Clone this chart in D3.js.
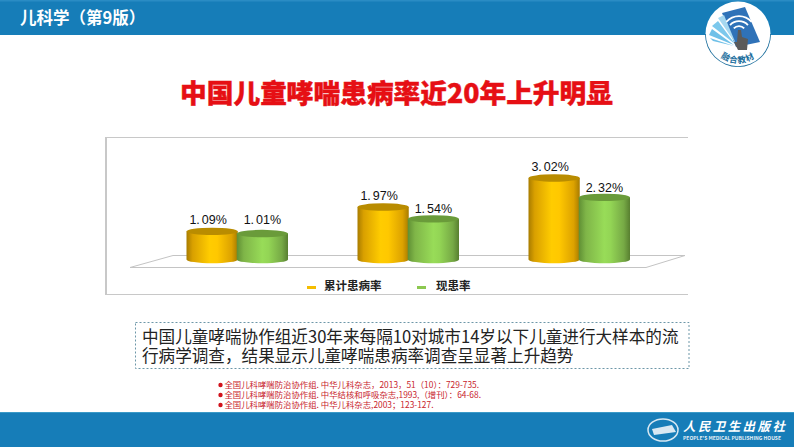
<!DOCTYPE html>
<html><head><meta charset="utf-8">
<style>html,body{margin:0;padding:0;background:#fff}svg{display:block}text{font-family:"Noto Sans CJK SC","Noto Sans",sans-serif}</style>
<script src="https://cdn.jsdelivr.net/npm/d3@7/dist/d3.min.js"></script>
</head><body><svg id="c" width="794" height="447"></svg>
<script>
const categories = ["第一次调查", "第二次调查", "第三次调查"];
const seriesNames = ["累计患病率", "现患率"];
const cumulative = [1.09, 1.97, 3.02];
const current = [1.01, 1.54, 2.32];
const headerText = "儿科学（第9版）";
const titleText = "中国儿童哮喘患病率近20年上升明显";
const noteLines = ["中国儿童哮喘协作组近30年来每隔10对城市14岁以下儿童进行大样本的流", "行病学调查，结果显示儿童哮喘患病率调查呈显著上升趋势"];
const refs = ["全国儿科哮喘防治协作组. 中华儿科杂志，2013，51（10）：729-735.", "全国儿科哮喘防治协作组. 中华结核和呼吸杂志,1993,（增刊）：64-68.", "全国儿科哮喘防治协作组. 中华儿科杂志,2003；123-127."];

const svg = d3.select("#c");
const defs = svg.append("defs");
function grad(id, stops){
  const g = defs.append("linearGradient").attr("id", id);
  stops.forEach(s => g.append("stop").attr("offset", s[0]).attr("stop-color", s[1]));
}
grad("o", [[0,"#a87c00"],[.12,"#d9a000"],[.45,"#ffcc00"],[.6,"#ffc800"],[.88,"#dca200"],[1,"#a87c00"]]);
grad("g", [[0,"#5f8f34"],[.14,"#7fb548"],[.5,"#98dc58"],[.62,"#93d555"],[.88,"#76a945"],[1,"#587f30"]]);
const topFill = ["#b98c00", "#6a9b3a"];

// header / footer
svg.append("rect").attr("width",794).attr("height",35).attr("fill","#167db8");
svg.append("rect").attr("width",794).attr("height",1.5).attr("fill","#2a8cc4");
svg.append("text").attr("x",20).attr("y",24).attr("fill","#fff").attr("font-size",16.5).attr("font-weight",700).text(headerText);
svg.append("rect").attr("y",412).attr("width",794).attr("height",35).attr("fill","#167db8");
svg.append("rect").attr("y",412).attr("width",794).attr("height",1).attr("fill","#3a9ac8");

// logo
const lg = svg.append("g");
lg.append("circle").attr("cx",738).attr("cy",34).attr("r",32.5).attr("fill","#fff");
lg.append("path").attr("d",d3.arc()({innerRadius:32.2,outerRadius:33,startAngle:Math.PI/2,endAngle:Math.PI*1.5})).attr("transform","translate(738,34)").attr("fill","#1a6d9c");
lg.append("path").attr("d","M722 13L745 7L760 42L736 47Z").attr("fill","#2f72b8");
lg.append("path").attr("d","M718 18L724 15L736 44Z").attr("fill","#a6d8f0");
lg.append("path").attr("d","M712 26L718 21L735 44Z").attr("fill","#7cc8ec");
lg.append("path").attr("d","M709 35L712 29L734 45Z").attr("fill","#6fc0e8");
lg.append("path").attr("d","M713 41L710 38L734 46Z").attr("fill","#6fc0e8");
[6,11,16].forEach(r=>lg.append("path").attr("d",d3.arc()({innerRadius:r,outerRadius:r+1.8,startAngle:-.85,endAngle:.85})).attr("transform","translate(739,33)").attr("fill","#fff"));
lg.append("path").attr("d","M738 30L741 30L742 37L748 39L747 50L738 50L734 42L737 42Z").attr("fill","#5a5a5a");
lg.append("path").attr("id","logoArc").attr("d","M710 40A28.5 28.5 0 0 0 766 40").attr("fill","none");
lg.append("text").attr("font-size",8.5).attr("font-weight",700).attr("letter-spacing",.8).attr("fill","#1a6d9c").attr("text-anchor","middle")
  .append("textPath").attr("href","#logoArc").attr("startOffset","50%").text("融合教材");

// title
svg.append("text").attr("x",396.5).attr("y",103).attr("text-anchor","middle").attr("font-size",26.7).attr("font-weight",900).attr("stroke","#e60f14").attr("stroke-width",.4).attr("fill","#e60f14").text(titleText);

// chart frame
const frame = svg.append("g").attr("stroke","#c8c8c8");
frame.append("line").attr("x1",105).attr("x2",688).attr("y1",137.5).attr("y2",137.5);
frame.append("line").attr("x1",105).attr("x2",688).attr("y1",294.5).attr("y2",294.5);
frame.append("line").attr("x1",106).attr("x2",106).attr("y1",137).attr("y2",295).attr("stroke-width",2);

// floor
svg.append("path").attr("d","M173 255.5H685L646 267.5H130Z").attr("fill","#fff").attr("stroke","#c4c4c4");

// scales
const x0 = d3.scaleBand().domain(categories).range([144,657]);
const x1 = d3.scaleBand().domain(seriesNames).range([43,143.5]);
const y = d3.scaleLinear().domain([0,3.02]).range([261.5,178]);
const floorY = 259.5, ry = 3.7, w = x1.bandwidth() + 1;
const labelDx = [-4, 0], labelDy = [7, 5.5];

function drawBar(g, xc, v, s){
  const yt = y(v), rx = w/2;
  g.append("path").attr("d",`M${xc-rx} ${yt}V${floorY}A${rx} ${ry} 0 0 0 ${xc+rx} ${floorY}V${yt}Z`).attr("fill",`url(#${s?"g":"o"})`);
  g.append("ellipse").attr("cx",xc).attr("cy",yt).attr("rx",rx).attr("ry",ry).attr("fill",topFill[s]);
}
categories.forEach((c,i)=>{
  const g = svg.append("g").attr("transform",`translate(${x0(c)},0)`);
  [cumulative[i], current[i]].forEach((v,s)=>{
    const xc = x1(seriesNames[s]) + x1.bandwidth()/2;
    drawBar(g, xc, v, s);
    const parts = v.toFixed(2).split(".");
    const lift = (i === 0 && s === 1) ? 4 : 0;
    const t = g.append("text").attr("x",xc+labelDx[s]).attr("y",y(v)-labelDy[s]-lift).attr("text-anchor","middle")
      .style("font-family","'Liberation Sans'").attr("font-size",12.5).attr("fill","#111");
    t.append("tspan").text(parts[0]+".");
    t.append("tspan").attr("dx",2).text(parts[1]+"%");
  });
});

// legend
const legendX = [307, 417], legendCol = ["#f5bd00","#8cc850"];
seriesNames.forEach((n,i)=>{
  svg.append("rect").attr("x",legendX[i]).attr("y",286).attr("width",9).attr("height",3).attr("fill",legendCol[i]);
  svg.append("text").attr("x",legendX[i]+(i?19:17)).attr("y",290).attr("font-size",11.5).attr("font-weight",700).attr("fill","#222").text(n);
});

// note
svg.append("rect").attr("x",135.5).attr("y",322.5).attr("width",553.5).attr("height",46).attr("fill","#fff").attr("stroke","#6d97a8").attr("stroke-dasharray","2 2");
const note = svg.append("text").attr("font-size",16.6).attr("fill","#222");
noteLines.forEach((t,i)=>note.append("tspan").attr("x",142).attr("y",343+i*19).text(t));

// references
refs.forEach((t,i)=>{
  const yy = 385+i*10;
  svg.append("circle").attr("cx",220.5).attr("cy",yy).attr("r",2.2).attr("fill","#d0121b");
  svg.append("text").attr("x",224.5).attr("y",yy+3).attr("font-size",8.4).attr("fill","#c8232c").text(t);
});

// publisher
const pub = svg.append("g");
pub.append("ellipse").attr("cx",663).attr("cy",430).attr("rx",15).attr("ry",11).attr("fill","none").attr("stroke","#d8e8f2").attr("stroke-width",1.5);
pub.append("path").attr("d","M652 429L672 425L676 432L654 435Z").attr("fill","#d8e8f2");
pub.append("text").attr("x",683).attr("y",431).attr("font-size",12.5).attr("font-weight",700).attr("font-style","italic").attr("letter-spacing",2.4).attr("fill","#fff").text("人民卫生出版社");
pub.append("text").attr("x",683).attr("y",440).attr("font-size",5).attr("font-weight",700).attr("fill","#e6f0f6").text("PEOPLE'S MEDICAL PUBLISHING HOUSE");
</script></body></html>
